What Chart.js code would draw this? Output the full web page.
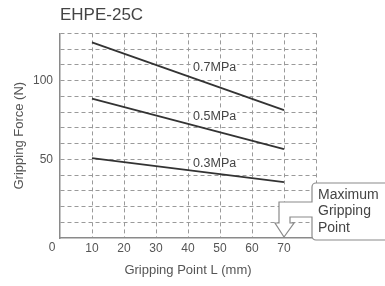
<!DOCTYPE html>
<html lang="en">
  <head>
    <meta charset="UTF-8" />
    <meta name="viewport" content="width=device-width, initial-scale=1.0" />
    <title>EHPE-25C - Gripping Force</title>
    <script src="https://cdn.jsdelivr.net/npm/chart.js@4.4.0/dist/chart.umd.min.js"></script>
    <style>
      html, body { margin: 0; padding: 0; background: #fff; }
      .container { width: 385px; height: 286px; }
    </style>
  </head>
  <body>
    <main>
      <div class="container">
        <canvas id="myChart"></canvas>
      </div>
    </main>
    <script>
      // values
      const pressures = ['0.7MPa', '0.5MPa', '0.3MPa'];
      const grippingPoint = [10, 70];
      const force07 = [124.3, 81.2];
      const force05 = [88.6, 56.4];
      const force03 = [50.7, 35.5];
      const xTickLabels = [0, 10, 20, 30, 40, 50, 60, 70];
      const yTickLabels = [50, 100];
      const maxPointText = ['Maximum', 'Gripping', 'Point'];
      // where the pressure labels sit (data units)
      const pressureLabelX = 41.6;
      const pressureLabelY = [108, 77, 47.5];

      const FONT = "'Liberation Sans', Arial, sans-serif";
      const grid = '#9a9a9a';

      const toPoints = (ys) => ys.map((y, i) => ({ x: grippingPoint[i], y: y }));
      const lineSet = (label, ys) => ({
        label: label,
        data: toPoints(ys),
        borderColor: '#333',
        borderWidth: 1.8,
        pointRadius: 0,
        fill: false,
      });

      const annotations = {
        id: 'annotations',
        afterDatasetsDraw(chart) {
          const ctx = chart.ctx;
          const x = chart.scales.x;
          const y = chart.scales.y;
          ctx.save();

          // pressure labels with a white backing over the grid
          ctx.font = '12.5px ' + FONT;
          ctx.textBaseline = 'middle';
          ctx.textAlign = 'left';
          pressures.forEach((p, i) => {
            const px = x.getPixelForValue(pressureLabelX);
            const py = y.getPixelForValue(pressureLabelY[i]);
            const w = ctx.measureText(p).width;
            ctx.fillStyle = '#fff';
            ctx.fillRect(px - 1, py - 6, w + 2, 12);
            ctx.fillStyle = '#444';
            ctx.fillText(p, px, py);
          });

          // origin "0", set a little left of the corner
          ctx.font = '12px ' + FONT;
          ctx.fillStyle = '#555';
          ctx.textAlign = 'center';
          ctx.fillText(String(xTickLabels[0]), x.left - 8, y.bottom + 10);

          // callout box
          const xp = x.getPixelForValue(70);
          const b = y.bottom;
          const bl = xp + 28, bt = b - 55, bb = b + 2, br = chart.width + 6;
          ctx.lineWidth = 1.2;
          ctx.strokeStyle = '#8a8a8a';
          ctx.fillStyle = '#fff';
          ctx.beginPath();
          ctx.roundRect(bl, bt, br - bl, bb - bt, 4);
          ctx.fill();
          ctx.stroke();

          // hollow arrow down to the 70 mm line
          ctx.beginPath();
          ctx.moveTo(bl, b - 36);
          ctx.lineTo(xp - 5, b - 36);
          ctx.lineTo(xp - 5, b - 15);
          ctx.lineTo(xp - 9, b - 15);
          ctx.lineTo(xp, b - 1);
          ctx.lineTo(xp + 10, b - 15);
          ctx.lineTo(xp + 6, b - 15);
          ctx.lineTo(xp + 6, b - 21);
          ctx.lineTo(bl, b - 21);
          ctx.fill();
          ctx.fillRect(bl - 1, b - 35.5, 2.5, 14);
          ctx.stroke();

          ctx.font = '14px ' + FONT;
          ctx.fillStyle = '#444';
          ctx.textAlign = 'left';
          maxPointText.forEach((t, i) => {
            ctx.fillText(t, bl + 6, bt + 12 + i * 16.5);
          });
          ctx.restore();
        },
      };

      const config = {
        type: 'line',
        data: {
          datasets: [
            lineSet(pressures[0], force07),
            lineSet(pressures[1], force05),
            lineSet(pressures[2], force03),
          ],
        },
        options: {
          animation: { duration: 0 },
          responsive: true,
          maintainAspectRatio: false,
          layout: { padding: { left: 8, right: 69, top: 5, bottom: 4 } },
          plugins: {
            legend: { display: false },
            tooltip: { enabled: false },
            title: {
              display: true,
              text: 'EHPE-25C',
              align: 'start',
              fullSize: false,
              color: '#444',
              font: { family: FONT, size: 17, weight: 'normal' },
              padding: { top: 0, bottom: 8 },
            },
          },
          scales: {
            x: {
              type: 'linear',
              min: 0,
              max: 80,
              afterFit: (s) => { s.height = 44; },
              ticks: {
                stepSize: 10,
                autoSkip: false,
                padding: 3,
                color: '#555',
                font: { family: FONT, size: 12 },
                callback: (v) => (v > 0 && xTickLabels.includes(v) ? v : ''),
              },
              grid: {
                drawTicks: false,
                color: (c) => (c.tick && c.tick.value === 0 ? 'rgba(0,0,0,0)' : grid),
                lineWidth: 1,
              },
              border: { display: true, color: '#8a8a8a', width: 1.5, dash: [4, 3] },
              title: {
                display: true,
                text: 'Gripping Point L (mm)',
                color: '#555',
                font: { family: FONT, size: 13 },
                padding: { top: 4, bottom: 4 },
              },
            },
            y: {
              min: 0,
              max: 130,
              afterFit: (s) => { s.width = 52; },
              ticks: {
                stepSize: 10,
                autoSkip: false,
                padding: 7,
                color: '#555',
                font: { family: FONT, size: 12 },
                callback: (v) => (yTickLabels.includes(v) ? v : ''),
              },
              grid: {
                drawTicks: false,
                color: (c) => (c.tick && c.tick.value === 0 ? 'rgba(0,0,0,0)' : grid),
                lineWidth: 1,
              },
              border: { display: true, color: '#8a8a8a', width: 1.5, dash: [4, 3] },
              title: {
                display: true,
                text: 'Gripping Force (N)',
                color: '#555',
                font: { family: FONT, size: 13 },
                padding: { top: 4, bottom: 4 },
              },
            },
          },
        },
        plugins: [annotations],
      };

      const myChart = new Chart(document.getElementById('myChart'), config);
    </script>
  </body>
</html>
